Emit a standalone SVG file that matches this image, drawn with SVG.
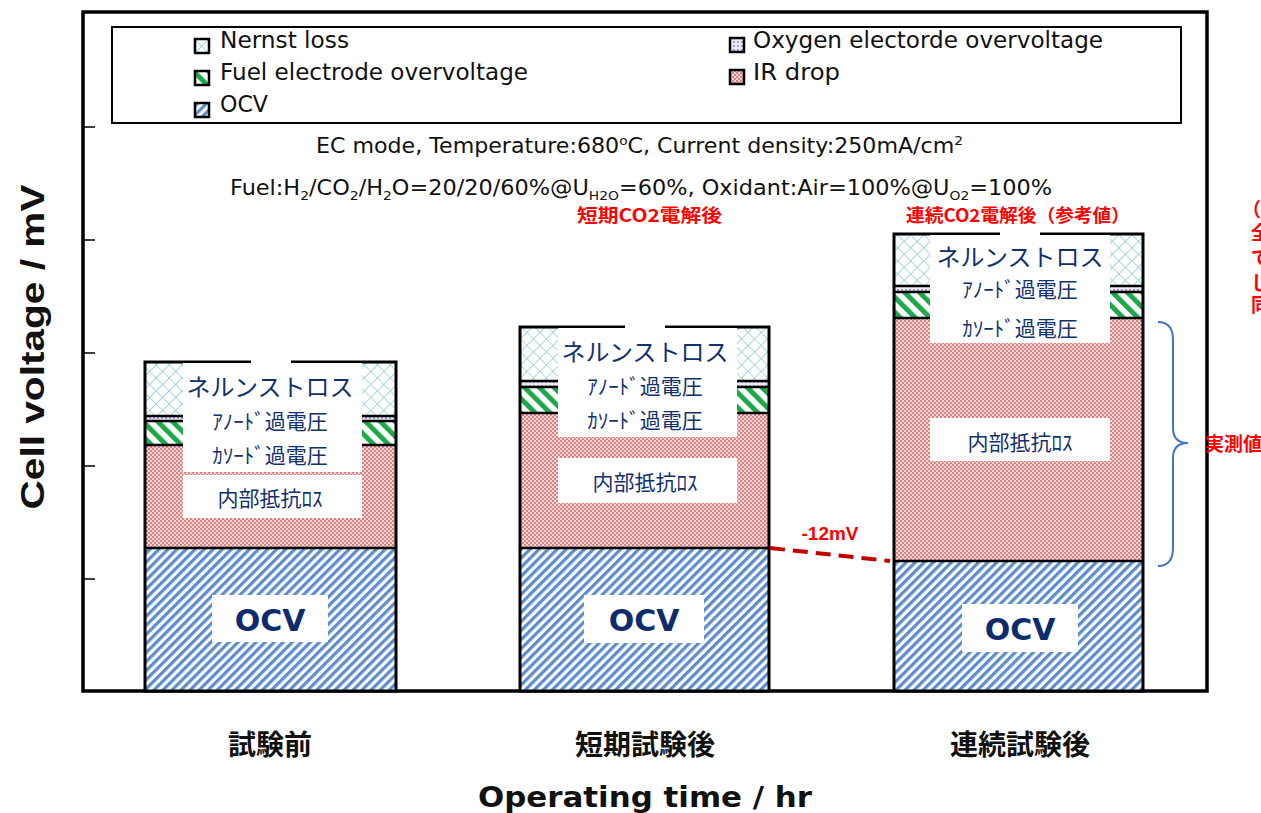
<svg xmlns="http://www.w3.org/2000/svg" width="1261" height="813" viewBox="0 0 1261 813">
<style>
.lat{font-family:"DejaVu Sans","Noto Sans",sans-serif;fill:#111}
.jp{font-family:"Noto Sans CJK JP",sans-serif;fill:#12306e;text-anchor:middle}
.ocv{font-family:"DejaVu Sans","Noto Sans",sans-serif;font-weight:bold;fill:#0c2c6c;font-size:30px;text-anchor:middle}
.red{font-family:"Noto Sans CJK JP",sans-serif;font-weight:bold;fill:#ff0000}
.cat{font-family:"Noto Sans CJK JP",sans-serif;font-weight:bold;fill:#111;font-size:28px;text-anchor:middle}
.out{fill:none;stroke:#000;stroke-width:3}
.seg{stroke:#000;stroke-width:2.5}
.box{fill:#fff}
.sw{stroke:#000;stroke-width:2.5}
</style>
<defs>
<pattern id="pOCV" width="6.4" height="6.4" patternUnits="userSpaceOnUse" patternTransform="rotate(45)"><rect width="6.4" height="6.4" fill="#fff"/><rect width="3.2" height="6.4" fill="#5b8ccc"/></pattern>
<pattern id="pFuel" width="10.5" height="10.5" patternUnits="userSpaceOnUse" patternTransform="rotate(-45)"><rect width="10.5" height="10.5" fill="#fff"/><rect width="5" height="10.5" fill="#1fa84b"/></pattern>
<pattern id="pNer" width="9.2" height="9.2" patternUnits="userSpaceOnUse" patternTransform="rotate(45)"><rect width="9.2" height="9.2" fill="#fff"/><path d="M0 0H9.2M0 0V9.2" stroke="#8ec9dc" stroke-width="1.6"/></pattern>
<pattern id="pIR" width="4" height="4" patternUnits="userSpaceOnUse"><rect width="4" height="4" fill="#f4d4d4"/><rect width="2" height="2" fill="#d88484"/><rect x="2" y="2" width="2" height="2" fill="#d88484"/></pattern>
<pattern id="pO2" width="4" height="4" patternUnits="userSpaceOnUse"><rect width="4" height="4" fill="#eeeaf6"/><circle cx="2" cy="2" r="1" fill="#8f80bf"/></pattern>
</defs>

<g id="axes">
<rect x="83" y="12" width="1124" height="679" fill="none" stroke="#000" stroke-width="3.5"/>
<path d="M83 127H95M83 240H95M83 353H95M83 466H95M83 579H95" stroke="#000" stroke-width="1.5"/>
<text transform="translate(44,347) rotate(-90)" text-anchor="middle" font-weight="bold" font-size="34" textLength="325" lengthAdjust="spacingAndGlyphs" style="font-family:'Liberation Sans',Arial,sans-serif;fill:#111">Cell voltage / mV</text>
<text class="lat" x="645" y="807" text-anchor="middle" font-weight="bold" font-size="29" textLength="334" lengthAdjust="spacingAndGlyphs">Operating time / hr</text>
<text class="cat" x="270" y="755">試験前</text>
<text class="cat" x="645" y="755">短期試験後</text>
<text class="cat" x="1020" y="755">連続試験後</text>
</g>

<g id="legend">
<rect x="112" y="27" width="1069" height="96" fill="#fff" stroke="#000" stroke-width="2"/>
<rect class="sw" x="195" y="39" width="14" height="14" fill="url(#pNer)"/>
<rect class="sw" x="195" y="71" width="14" height="14" fill="url(#pFuel)"/>
<rect class="sw" x="195" y="103" width="14" height="14" fill="url(#pOCV)"/>
<rect class="sw" x="730" y="38" width="14" height="14" fill="url(#pO2)"/>
<rect class="sw" x="730" y="70" width="14" height="14" fill="url(#pIR)"/>
<text class="lat" x="220" y="48" font-size="23" textLength="129" lengthAdjust="spacingAndGlyphs">Nernst loss</text>
<text class="lat" x="220" y="80" font-size="23" textLength="308" lengthAdjust="spacingAndGlyphs">Fuel electrode overvoltage</text>
<text class="lat" x="220" y="112" font-size="23" textLength="48" lengthAdjust="spacingAndGlyphs">OCV</text>
<text class="lat" x="753" y="48" font-size="23" textLength="350" lengthAdjust="spacingAndGlyphs">Oxygen electorde overvoltage</text>
<text class="lat" x="753" y="80" font-size="23" textLength="87" lengthAdjust="spacingAndGlyphs">IR drop</text>
</g>

<g id="conditions">
<text class="lat" x="316" y="153" font-size="21" textLength="647" lengthAdjust="spacingAndGlyphs">EC mode, Temperature:680<tspan font-size="13" dy="-8">o</tspan><tspan dy="8">C, Current density:250mA/cm</tspan><tspan font-size="13" dy="-8">2</tspan></text>
<text class="lat" x="230" y="195" font-size="21" textLength="822" lengthAdjust="spacingAndGlyphs">Fuel:H<tspan font-size="13" dy="5">2</tspan><tspan dy="-5">/CO</tspan><tspan font-size="13" dy="5">2</tspan><tspan dy="-5">/H</tspan><tspan font-size="13" dy="5">2</tspan><tspan dy="-5">O=20/20/60%@U</tspan><tspan font-size="13" dy="5">H2O</tspan><tspan dy="-5">=60%, Oxidant:Air=100%@U</tspan><tspan font-size="13" dy="5">O2</tspan><tspan dy="-5">=100%</tspan></text>
<text class="red" x="577" y="222" font-size="18" textLength="145" lengthAdjust="spacingAndGlyphs">短期CO2電解後</text>
<text class="red" x="906" y="222" font-size="18" textLength="224" lengthAdjust="spacingAndGlyphs">連続CO2電解後（参考値）</text>
</g>

<g id="bar1">
<rect x="145" y="362" width="251" height="54" fill="url(#pNer)"/>
<rect x="145" y="416" width="251" height="5" fill="url(#pO2)"/>
<rect x="145" y="421" width="251" height="24" fill="url(#pFuel)"/>
<rect x="145" y="445" width="251" height="103" fill="url(#pIR)"/>
<rect x="145" y="548" width="251" height="143" fill="url(#pOCV)"/>
<path class="seg" d="M145 416H396M145 421H396M145 445H396M145 548H396"/>
<rect class="out" x="145" y="362" width="251" height="329"/>
<rect class="box" x="183" y="363" width="179" height="109"/>
<rect class="box" x="251" y="359" width="40" height="6"/>
<rect class="box" x="183" y="475" width="179" height="43"/>
<rect class="box" x="212" y="595" width="116" height="47"/>
<text class="jp" x="270" y="396" font-size="24">ネルンストロス</text>
<text class="jp" x="270" y="429" font-size="21">ｱﾉｰﾄﾞ過電圧</text>
<text class="jp" x="270" y="463" font-size="21">ｶｿｰﾄﾞ過電圧</text>
<text class="jp" x="270" y="506" font-size="21">内部抵抗ﾛｽ</text>
<text class="ocv" x="270" y="631">OCV</text>
</g>

<g id="bar2">
<rect x="520" y="327" width="249" height="54" fill="url(#pNer)"/>
<rect x="520" y="381" width="249" height="6" fill="url(#pO2)"/>
<rect x="520" y="387" width="249" height="26" fill="url(#pFuel)"/>
<rect x="520" y="413" width="249" height="135" fill="url(#pIR)"/>
<rect x="520" y="548" width="249" height="143" fill="url(#pOCV)"/>
<path class="seg" d="M520 381H769M520 387H769M520 413H769M520 548H769"/>
<rect class="out" x="520" y="327" width="249" height="364"/>
<rect class="box" x="558" y="328" width="179" height="109"/>
<rect class="box" x="625" y="324" width="40" height="6"/>
<rect class="box" x="558" y="458" width="179" height="45"/>
<rect class="box" x="584" y="595" width="120" height="48"/>
<text class="jp" x="645" y="361" font-size="24">ネルンストロス</text>
<text class="jp" x="645" y="394" font-size="21">ｱﾉｰﾄﾞ過電圧</text>
<text class="jp" x="645" y="428" font-size="21">ｶｿｰﾄﾞ過電圧</text>
<text class="jp" x="645" y="490" font-size="21">内部抵抗ﾛｽ</text>
<text class="ocv" x="644" y="631">OCV</text>
</g>

<g id="bar3">
<rect x="894" y="234" width="249" height="52" fill="url(#pNer)"/>
<rect x="894" y="286" width="249" height="6" fill="url(#pO2)"/>
<rect x="894" y="292" width="249" height="26" fill="url(#pFuel)"/>
<rect x="894" y="318" width="249" height="243" fill="url(#pIR)"/>
<rect x="894" y="561" width="249" height="130" fill="url(#pOCV)"/>
<path class="seg" d="M894 286H1143M894 292H1143M894 318H1143M894 561H1143"/>
<rect class="out" x="894" y="234" width="249" height="457"/>
<rect class="box" x="930" y="235" width="180" height="108"/>
<rect class="box" x="1000" y="231" width="40" height="6"/>
<rect class="box" x="930" y="418" width="180" height="43"/>
<rect class="box" x="962" y="604" width="116" height="48"/>
<text class="jp" x="1020" y="266" font-size="24">ネルンストロス</text>
<text class="jp" x="1020" y="297" font-size="21">ｱﾉｰﾄﾞ過電圧</text>
<text class="jp" x="1020" y="336" font-size="21">ｶｿｰﾄﾞ過電圧</text>
<text class="jp" x="1020" y="450" font-size="21">内部抵抗ﾛｽ</text>
<text class="ocv" x="1020" y="640">OCV</text>
</g>

<g id="connectors">
<path d="M770 548L890 561" stroke="#c00000" stroke-width="4" stroke-dasharray="15 8" fill="none"/>
<text x="830" y="540" font-size="19" font-weight="bold" text-anchor="middle" style="font-family:'Liberation Sans',Arial,sans-serif;fill:#ff0000">-12mV</text>
<path d="M1158 322Q1173 322 1173 340L1173 428Q1173 443 1188 443Q1173 443 1173 458L1173 548Q1173 566 1158 566" fill="none" stroke="#4472c4" stroke-width="2"/>
</g>

<g id="notes">
<text class="red" x="1205" y="451" font-size="19">実測値</text>
<text class="red" x="1242" y="217" font-size="19">（</text>
<text class="red" x="1251" y="240" font-size="19">全</text>
<text class="red" x="1251" y="265" font-size="19">で</text>
<text class="red" x="1251" y="290" font-size="19">し</text>
<text class="red" x="1251" y="312" font-size="19">同</text>
</g>
</svg>
